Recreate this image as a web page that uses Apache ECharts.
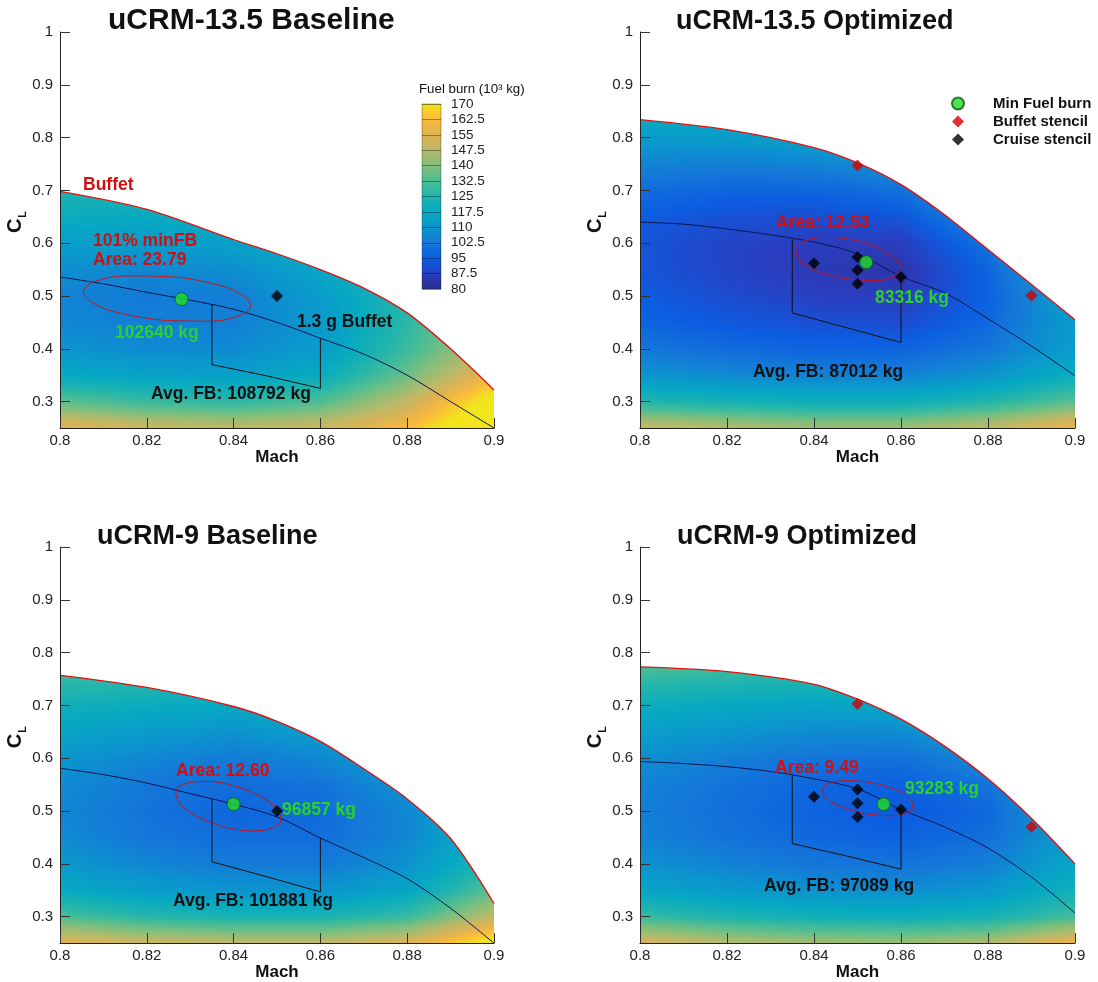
<!DOCTYPE html>
<html><head><meta charset="utf-8">
<script src="https://cdn.jsdelivr.net/npm/echarts@6/dist/echarts.min.js"></script>
<style>html,body{margin:0;padding:0;background:#fff}#c{width:1098px;height:982px}</style>
</head><body><div id="c"></div>
<script>
// ================= DATA =================
const panelTitles = ['uCRM-13.5 Baseline', 'uCRM-13.5 Optimized', 'uCRM-9 Baseline', 'uCRM-9 Optimized'];
const clTicks = [0.3, 0.4, 0.5, 0.6, 0.7, 0.8, 0.9, 1];
const colorbarTicks = ['80', '87.5', '95', '102.5', '110', '117.5', '125', '132.5', '140', '147.5', '155', '162.5', '170'];
const colorbarLevels = [80, 87.5, 95, 102.5, 110, 117.5, 125, 132.5, 140, 147.5, 155, 162.5, 170];

// fuel burn field (10^3 kg), rows = CL nodes, columns = Mach nodes
const fieldMach = [0.80, 0.82, 0.84, 0.86, 0.88, 0.90];
const fieldCL = [0.25, 0.30, 0.35, 0.40, 0.45, 0.50, 0.55, 0.60, 0.65, 0.70, 0.75, 0.80, 0.85];
const fuelBurn135Base = [
  [158, 152, 150, 152, 162, 185],
  [135, 130, 128, 133, 150, 175],
  [118, 115, 114, 119, 137, 160],
  [110, 107, 107, 112, 130, 150],
  [106, 104, 104, 111, 127, 145],
  [105, 103, 104, 112, 127, 145],
  [108, 106, 108, 116, 130, 150],
  [113, 112, 114, 121, 135, 155],
  [119, 118, 121, 128, 142, 160],
  [124, 124, 128, 136, 148, 165],
  [130, 130, 135, 145, 155, 170],
  [136, 137, 142, 152, 162, 175],
  [142, 144, 150, 160, 170, 180]
];
const fuelBurn135Opt = [
  [152, 148, 145, 145, 150, 160],
  [126, 123, 121, 121, 126, 135],
  [110, 107, 105, 105, 110, 120],
  [102, 99, 97, 97, 102, 113],
  [97, 94, 92, 91, 98, 112],
  [95, 91, 88, 87, 96, 115],
  [93, 89, 86, 84.5, 97, 120],
  [93, 89, 87, 87, 101, 128],
  [95, 92, 91, 93, 107, 135],
  [99, 97, 97, 100, 115, 142],
  [105, 104, 105, 109, 125, 150],
  [112, 112, 114, 120, 135, 158],
  [120, 121, 124, 130, 145, 165]
];
const fuelBurn9Base = [
  [157, 152, 150, 150, 155, 175],
  [133, 127, 124, 124, 130, 150],
  [118, 113, 110, 110, 116, 135],
  [111, 106, 103, 103, 109, 126],
  [107, 102, 99.5, 99.5, 106, 122],
  [106, 101, 97.5, 99, 106, 122],
  [107, 102, 99, 101, 109, 126],
  [110, 106, 103, 106, 114, 132],
  [115, 112, 109, 113, 121, 140],
  [121, 119, 117, 121, 130, 150],
  [128, 127, 126, 131, 140, 160],
  [136, 136, 136, 142, 150, 170],
  [145, 145, 146, 152, 160, 180]
];
const fuelBurn9Opt = [
  [155, 148, 145, 144, 147, 160],
  [130, 125, 122, 121, 123, 132],
  [116, 112, 109, 108, 111, 122],
  [109, 105, 102, 101, 104, 116],
  [105, 101, 98, 96.5, 100, 113],
  [104, 100, 96.5, 94, 98, 114],
  [105, 101, 97.5, 95.5, 101, 118],
  [108, 104, 101, 100, 107, 125],
  [113, 110, 107, 107, 115, 133],
  [120, 117, 115, 116, 125, 142],
  [128, 126, 125, 127, 136, 152],
  [137, 136, 135, 138, 147, 162],
  [146, 146, 146, 150, 158, 172]
];

// buffet boundary (CL vs Mach)
const buffetMach = [0.80, 0.82, 0.84, 0.85, 0.86, 0.87, 0.88, 0.89, 0.90];
const buffetCL135Base = [0.698, 0.664, 0.607, 0.580, 0.550, 0.515, 0.468, 0.400, 0.322];
const buffetCL135Opt  = [0.834, 0.815, 0.781, 0.752, 0.711, 0.654, 0.588, 0.522, 0.455];
const buffetCL9Base   = [0.757, 0.734, 0.698, 0.670, 0.632, 0.580, 0.523, 0.448, 0.325];
const buffetCL9Opt    = [0.773, 0.764, 0.740, 0.712, 0.674, 0.623, 0.561, 0.486, 0.400];

// cruise (1 g) line
const cruiseMach = [0.80, 0.81, 0.82, 0.83, 0.84, 0.85, 0.86, 0.87, 0.88, 0.89, 0.90];
const cruiseCL135Base = [0.536, 0.523, 0.507, 0.492, 0.475, 0.450, 0.420, 0.390, 0.350, 0.300, 0.250];
const cruiseCL135Opt  = [0.640, 0.636, 0.627, 0.616, 0.602, 0.580, 0.537, 0.506, 0.457, 0.405, 0.349];
const cruiseCL9Base   = [0.581, 0.569, 0.553, 0.533, 0.513, 0.489, 0.449, 0.412, 0.372, 0.316, 0.250];
const cruiseCL9Opt    = [0.594, 0.590, 0.584, 0.575, 0.561, 0.542, 0.503, 0.470, 0.430, 0.375, 0.307];

// stencil box outline [Mach, CL]
const stencilBox135Base = [[0.835, 0.484], [0.835, 0.370], [0.8475, 0.349], [0.86, 0.325], [0.86, 0.420]];
const stencilBox135Opt  = [[0.835, 0.608], [0.835, 0.468], [0.8475, 0.440], [0.86, 0.412], [0.86, 0.537]];
const stencilBox9Base   = [[0.835, 0.523], [0.835, 0.404], [0.8475, 0.376], [0.86, 0.347], [0.86, 0.449]];
const stencilBox9Opt    = [[0.835, 0.567], [0.835, 0.4385], [0.8475, 0.415], [0.86, 0.390], [0.86, 0.503]];

// 101% min fuel burn contour [Mach, CL]
const contour135Base = [[0.8242, 0.4536], [0.8146, 0.4661], [0.8077, 0.4864], [0.8054, 0.5089], [0.8082, 0.5278], [0.8154, 0.5379], [0.8251, 0.5366], [0.8347, 0.5241], [0.8416, 0.5038], [0.8439, 0.4813], [0.8411, 0.4623], [0.8339, 0.4523], [0.8242, 0.4536]];
const contour135Opt = [[0.8476, 0.5325], [0.8410, 0.5458], [0.8370, 0.5655], [0.8358, 0.5860], [0.8377, 0.6033], [0.8423, 0.6109], [0.8481, 0.6075], [0.8538, 0.5944], [0.8578, 0.5747], [0.8602, 0.5532], [0.8582, 0.5367], [0.8536, 0.5291], [0.8476, 0.5325]];
const contour9Base = [[0.8375, 0.4708], [0.8316, 0.4900], [0.8277, 0.5137], [0.8267, 0.5365], [0.8289, 0.5519], [0.8338, 0.5562], [0.8400, 0.5479], [0.8459, 0.5288], [0.8499, 0.5049], [0.8509, 0.4823], [0.8486, 0.4668], [0.8437, 0.4625], [0.8375, 0.4708]];
const contour9Opt = [[0.8517, 0.4953], [0.8467, 0.5068], [0.8431, 0.5227], [0.8420, 0.5387], [0.8437, 0.5532], [0.8477, 0.5575], [0.8530, 0.5539], [0.8581, 0.5425], [0.8617, 0.5264], [0.8627, 0.5074], [0.8610, 0.4955], [0.8570, 0.4912], [0.8517, 0.4953]];

// stencil points and minimum
const cruiseStencil135Base = [[0.85, 0.500]];
const cruiseStencil135Opt  = [[0.84, 0.562], [0.85, 0.574], [0.85, 0.549], [0.85, 0.523], [0.86, 0.536]];
const cruiseStencil9Base   = [[0.85, 0.500]];
const cruiseStencil9Opt    = [[0.84, 0.527], [0.85, 0.541], [0.85, 0.515], [0.85, 0.489], [0.86, 0.503]];
const buffetStencil135Opt  = [[0.85, 0.747], [0.89, 0.501]];
const buffetStencil9Opt    = [[0.85, 0.703], [0.89, 0.470]];
const minPoint135Base = [[0.828, 0.494]];
const minPoint135Opt  = [[0.852, 0.564]];
const minPoint9Base   = [[0.840, 0.513]];
const minPoint9Opt    = [[0.856, 0.513]];

const minFB = [102640, 83316, 96857, 93283];
const avgFB = [108792, 87012, 101881, 97089];
const areaText = ['23.79', '12.53', '12.60', '9.49'];

// ================= STYLE / LAYOUT =================
const cmapColors = ['#2c2a88', '#2a3ec0', '#0c5de0', '#1479d8', '#0b96cd', '#06a9c2', '#1fb4ae',
  '#4cbd95', '#85be7a', '#b8b96a', '#deb253', '#fbbb3a', '#f2e41d'];
function hex2rgb(h) { return [parseInt(h.substr(1, 2), 16), parseInt(h.substr(3, 2), 16), parseInt(h.substr(5, 2), 16)]; }
const cmapRGB = cmapColors.map(hex2rgb);
function cmap(v) {
  const lo = colorbarLevels[0], hi = colorbarLevels[colorbarLevels.length - 1];
  v = Math.max(lo, Math.min(hi, v));
  let k = 0;
  while (k < colorbarLevels.length - 2 && v > colorbarLevels[k + 1]) k++;
  const t = (v - colorbarLevels[k]) / (colorbarLevels[k + 1] - colorbarLevels[k]);
  const a = cmapRGB[k], b = cmapRGB[k + 1];
  return 'rgb(' + Math.round(a[0] + (b[0] - a[0]) * t) + ',' + Math.round(a[1] + (b[1] - a[1]) * t) + ',' + Math.round(a[2] + (b[2] - a[2]) * t) + ')';
}

const FONT = '"Liberation Sans", Arial, Helvetica, sans-serif';
const grids = [
  { left: 60, top: 32, width: 434, height: 396 },
  { left: 640, top: 32, width: 435, height: 396 },
  { left: 60, top: 547, width: 434, height: 398 },
  { left: 640, top: 547, width: 435, height: 398 },
  { left: 422, top: 104, width: 19, height: 185 }   // colorbar
];

const panels = [
  { field: fuelBurn135Base, buffet: buffetCL135Base, cruise: cruiseCL135Base, box: stencilBox135Base, contour: contour135Base, cruisePts: cruiseStencil135Base, buffetPts: [], minPt: minPoint135Base },
  { field: fuelBurn135Opt, buffet: buffetCL135Opt, cruise: cruiseCL135Opt, box: stencilBox135Opt, contour: contour135Opt, cruisePts: cruiseStencil135Opt, buffetPts: buffetStencil135Opt, minPt: minPoint135Opt },
  { field: fuelBurn9Base, buffet: buffetCL9Base, cruise: cruiseCL9Base, box: stencilBox9Base, contour: contour9Base, cruisePts: cruiseStencil9Base, buffetPts: [], minPt: minPoint9Base },
  { field: fuelBurn9Opt, buffet: buffetCL9Opt, cruise: cruiseCL9Opt, box: stencilBox9Opt, contour: contour9Opt, cruisePts: cruiseStencil9Opt, buffetPts: buffetStencil9Opt, minPt: minPoint9Opt }
];

function fieldCells(F) {
  const out = [];
  for (let j = 0; j < fieldCL.length - 1; j++) {
    for (let i = 0; i < fieldMach.length - 1; i++) {
      out.push([fieldMach[i], fieldCL[j], fieldMach[i + 1], fieldCL[j + 1],
        F[j][i], F[j][i + 1], F[j + 1][i], F[j + 1][i + 1]]);
    }
  }
  return out;
}
const machMax = fieldMach[fieldMach.length - 1];
function renderField(params, api) {
  const m0 = api.value(0), c0 = api.value(1), m1 = api.value(2), c1 = api.value(3);
  const v00 = api.value(4), v10 = api.value(5), v01 = api.value(6), v11 = api.value(7);
  const pA = api.coord([m0, c0]), pB = api.coord([m1, c1]);
  const x = pA[0], w = pB[0] - pA[0] + (m1 < machMax - 1e-9 ? 0.8 : 0);
  const rows = 12, children = [];
  for (let r = 0; r < rows; r++) {
    const t = (r + 0.5) / rows;
    const yb = pA[1] + (pB[1] - pA[1]) * r / rows;
    const yt = pA[1] + (pB[1] - pA[1]) * (r + 1) / rows;
    const vl = v00 + (v01 - v00) * t, vr = v10 + (v11 - v10) * t;
    const stops = [];
    for (let k = 0; k <= 8; k++) { const s = k / 8; stops.push({ offset: s, color: cmap(vl + (vr - vl) * s) }); }
    children.push({
      type: 'rect', silent: true,
      shape: { x: x, y: yt, width: w, height: (yb - yt) + 0.8 },
      style: { fill: new echarts.graphic.LinearGradient(0, 0, 1, 0, stops) }
    });
  }
  return { type: 'group', children: children };
}
function renderBar(params, api) {
  const n = colorbarLevels.length - 1;
  const a = api.coord([0, 0]), b = api.coord([1, n]);
  const stops = [];
  for (let k = n; k >= 0; k--) stops.push({ offset: (n - k) / n, color: cmapColors[k] });
  return {
    type: 'rect',
    shape: { x: a[0], y: b[1], width: b[0] - a[0], height: a[1] - b[1] },
    style: { fill: new echarts.graphic.LinearGradient(0, 0, 0, 1, stops), stroke: 'rgba(0,0,0,0.3)', lineWidth: 1 }
  };
}

const xAxes = [], yAxes = [], series = [];
for (let p = 0; p < 4; p++) {
  xAxes.push({
    gridIndex: p, type: 'value', min: 0.8, max: 0.9, interval: 0.02, z: 10,
    name: 'Mach', nameLocation: 'middle', nameGap: 17,
    nameTextStyle: { fontSize: 17, fontWeight: 'bold', color: '#111', fontFamily: FONT },
    axisLine: { show: true, onZero: false, lineStyle: { color: '#222', width: 1 } },
    axisTick: { show: true, inside: true, length: 10, lineStyle: { color: '#333' } },
    axisLabel: { fontSize: 15, color: '#222', margin: 5, showMinLabel: true, showMaxLabel: true, fontFamily: FONT,
      formatter: v => String(+(+v).toFixed(2)) },
    splitLine: { show: false }
  });
  yAxes.push({
    gridIndex: p, type: 'value', min: 0.25, max: 1, z: 10,
    name: '{c|C}{l|L}', nameLocation: 'middle', nameRotate: 90, nameGap: 27,
    nameTextStyle: { padding: [0, 0, 0, 16], rich: {
      c: { fontSize: 20, fontWeight: 'bold', color: '#111', fontFamily: FONT },
      l: { fontSize: 11, fontWeight: 'bold', color: '#111', fontFamily: FONT, verticalAlign: 'bottom', padding: [14, 0, 0, 1] }
    } },
    axisLine: { show: true, onZero: false, lineStyle: { color: '#222', width: 1 } },
    axisTick: { show: true, inside: true, length: 10, customValues: clTicks, lineStyle: { color: '#333' } },
    axisLabel: { fontSize: 15, color: '#222', margin: 7, customValues: clTicks, fontFamily: FONT,
      formatter: v => String(+(+v).toFixed(2)) },
    splitLine: { show: false }
  });
  const P = panels[p];
  series.push({
    type: 'custom', xAxisIndex: p, yAxisIndex: p, z: 1, silent: true,
    renderItem: renderField, data: fieldCells(P.field)
  });
  series.push({
    type: 'line', xAxisIndex: p, yAxisIndex: p, z: 2, symbol: 'none', silent: true, smooth: 0.3,
    data: buffetMach.map((m, i) => [m, P.buffet[i]]),
    lineStyle: { color: '#e01010', width: 1.3 },
    areaStyle: { color: '#ffffff', opacity: 1, origin: 'end' }
  });
  series.push({
    type: 'line', xAxisIndex: p, yAxisIndex: p, z: 3, symbol: 'none', silent: true, smooth: 0.3,
    data: cruiseMach.map((m, i) => [m, P.cruise[i]]),
    lineStyle: { color: '#0b1550', width: 1 }
  });
  series.push({
    type: 'line', xAxisIndex: p, yAxisIndex: p, z: 3, symbol: 'none', silent: true,
    data: P.box, lineStyle: { color: '#111', width: 1 }
  });
  series.push({
    type: 'line', xAxisIndex: p, yAxisIndex: p, z: 3, symbol: 'none', silent: true, smooth: 0.4,
    data: P.contour, lineStyle: { color: '#c81414', width: 1 }
  });
  series.push({
    name: 'Cruise stencil', type: 'scatter', xAxisIndex: p, yAxisIndex: p, z: 5,
    symbol: 'diamond', symbolSize: 12, data: P.cruisePts, itemStyle: { color: '#000' }
  });
  series.push({
    name: 'Buffet stencil', type: 'scatter', xAxisIndex: p, yAxisIndex: p, z: 5,
    symbol: 'diamond', symbolSize: 12, data: P.buffetPts, itemStyle: { color: '#d40000' }
  });
  series.push({
    name: 'Min Fuel burn', type: 'scatter', xAxisIndex: p, yAxisIndex: p, z: 6,
    symbol: 'circle', symbolSize: 13, data: P.minPt,
    itemStyle: { color: '#22dd22', borderColor: '#0d5a0d', borderWidth: 1 }
  });
}
// colorbar axes + series
xAxes.push({ gridIndex: 4, type: 'value', min: 0, max: 1, show: false });
yAxes.push({
  gridIndex: 4, type: 'value', min: 0, max: colorbarLevels.length - 1, interval: 1, position: 'right', z: 30,
  axisLine: { show: false }, axisTick: { show: false },
  splitLine: { show: true, lineStyle: { color: 'rgba(0,0,0,0.35)', width: 1 } },
  axisLabel: { fontSize: 13.5, color: '#222', margin: 10, fontFamily: FONT, formatter: v => colorbarTicks[v] }
});
series.push({ type: 'custom', xAxisIndex: 4, yAxisIndex: 4, z: 20, silent: true, renderItem: renderBar, data: [[0.5, 6]] });

// annotation texts
function txt(x, y, text, color, size) {
  return { type: 'text', x: x, y: y, z: 100, silent: true,
    style: { text: text, fill: color, font: 'bold ' + (size || 17.5) + 'px ' + FONT, align: 'left', verticalAlign: 'middle' } };
}
const RED = '#d01010', GREEN = '#2bd02b', BLACK = '#111';
const graphics = [
  txt(83, 185, 'Buffet', RED),
  txt(93, 241, '101% minFB', RED),
  txt(93, 260, 'Area: ' + areaText[0], RED),
  txt(115, 333, minFB[0] + ' kg', GREEN),
  txt(297, 322, '1.3 g Buffet', BLACK),
  txt(151, 394, 'Avg. FB: ' + avgFB[0] + ' kg', BLACK),
  txt(776, 223, 'Area: ' + areaText[1], RED),
  txt(875, 298, minFB[1] + ' kg', GREEN),
  txt(753, 372, 'Avg. FB: ' + avgFB[1] + ' kg', BLACK),
  txt(176, 771, 'Area: ' + areaText[2], RED),
  txt(282, 810, minFB[2] + ' kg', GREEN),
  txt(173, 901, 'Avg. FB: ' + avgFB[2] + ' kg', BLACK),
  txt(775, 768, 'Area: ' + areaText[3], RED),
  txt(905, 789, minFB[3] + ' kg', GREEN),
  txt(764, 886, 'Avg. FB: ' + avgFB[3] + ' kg', BLACK),
  { type: 'text', x: 419, y: 89, z: 100, silent: true,
    style: { text: 'Fuel burn (10³ kg)', fill: '#111', font: '13.3px ' + FONT, align: 'left', verticalAlign: 'middle' } }
];

const titlePos = [[108, 6, 30], [676, 8, 27], [97, 523, 27], [677, 523, 27]];
const chart = echarts.init(document.getElementById('c'), null, { renderer: 'canvas' });
chart.setOption({
  animation: false,
  backgroundColor: '#ffffff',
  textStyle: { fontFamily: FONT },
  title: panelTitles.map((t, i) => ({
    text: t, left: titlePos[i][0], top: titlePos[i][1], padding: 0,
    textStyle: { fontSize: titlePos[i][2], fontWeight: 'bold', color: '#111', fontFamily: FONT }
  })),
  legend: {
    orient: 'vertical', left: 946, top: 91, itemWidth: 12, itemHeight: 12, itemGap: 3, selectedMode: false,
    textStyle: { fontSize: 15, fontWeight: 'bold', color: '#111', fontFamily: FONT, padding: [0, 0, 0, 24] },
    data: [{ name: 'Min Fuel burn', icon: 'circle' }, { name: 'Buffet stencil', icon: 'diamond' }, { name: 'Cruise stencil', icon: 'diamond' }]
  },
  grid: grids,
  xAxis: xAxes,
  yAxis: yAxes,
  series: series,
  graphic: graphics
});
</script>
</body></html>
